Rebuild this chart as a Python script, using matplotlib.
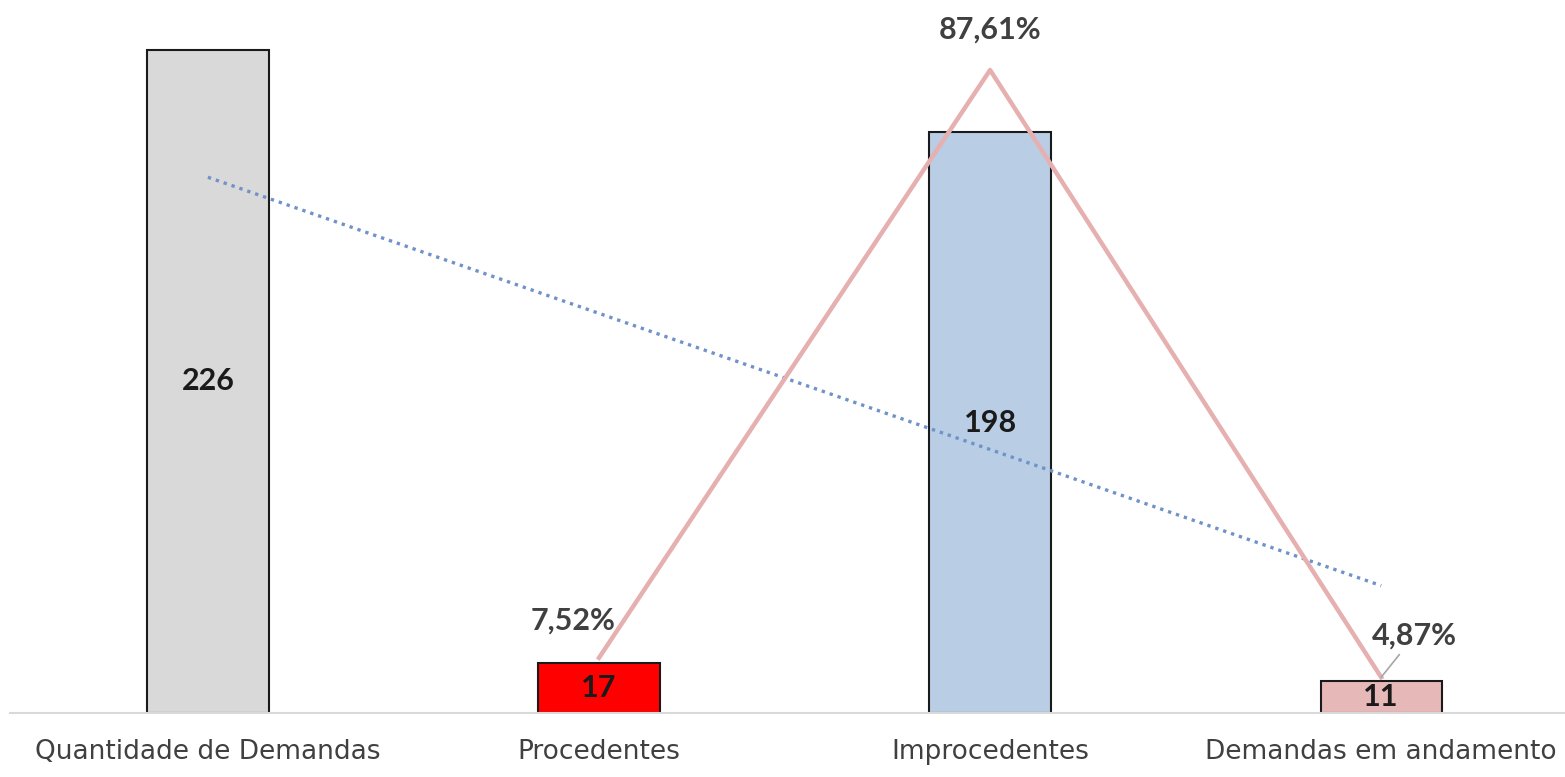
import matplotlib
matplotlib.use("Agg")
import matplotlib.pyplot as plt
import numpy as np

categories = ["Quantidade de Demandas", "Procedentes", "Improcedentes", "Demandas em andamento"]
values = [226, 17, 198, 11]
bar_colors = ["#D9D9D9", "#FF0000", "#B9CDE5", "#E6B9B8"]
pct_values = [7.52, 87.61, 4.87]
pct_labels = ["7,52%", "87,61%", "4,87%"]

plt.rcParams['font.family'] = ['Lato', 'DejaVu Sans']

W, H = 1565, 777
fig = plt.figure(figsize=(W / 100, H / 100), dpi=100)
ax = fig.add_axes([10 / W, (H - 713) / H, (W - 10) / W, 713 / H])

x = np.arange(len(categories))
ax.bar(x, values, width=0.31, color=bar_colors, edgecolor="#1a1a1a", linewidth=1.5, zorder=2)
ax.set_xlim(-0.506, 3.47)
ax.set_ylim(0, 243)

for xi, v in zip(x, values):
    ax.text(xi, v / 2, str(v), ha="center", va="center", fontsize=22,
            fontweight="bold", color="#1a1a1a", zorder=5)

# linear trendline of bar values
coef = np.polyfit(x, values, 1)
ax.plot(x[[0, -1]], np.polyval(coef, x[[0, -1]]), linestyle=(0, (1, 1.5)),
        color="#6F93C8", linewidth=2.4, zorder=4)

for s in ["top", "right", "left"]:
    ax.spines[s].set_visible(False)
ax.spines["bottom"].set_color("#D9D9D9")
ax.spines["bottom"].set_linewidth(1.5)
ax.set_yticks([])
ax.set_xticks(x)
ax.set_xticklabels(categories, fontsize=19, color="#404040", family="DejaVu Sans")
ax.tick_params(axis="x", length=0, pad=19)

ax2 = ax.twinx()
ax2.set_ylim(0, 97.15)
px = x[1:]
ax2.plot(px, pct_values, color="#E6B0B0", linewidth=3.2, zorder=3)
ax2.set_yticks([])
for s in ax2.spines.values():
    s.set_visible(False)

lbl_kw = dict(textcoords="offset points", ha="center", va="center",
              fontsize=22, fontweight="bold", color="#404040")
ax2.annotate(pct_labels[0], xy=(px[0], pct_values[0]), xytext=(-19, 27), **lbl_kw)
ax2.annotate(pct_labels[1], xy=(px[1], pct_values[1]), xytext=(0, 29), **lbl_kw)
ax2.annotate(pct_labels[2], xy=(px[2], pct_values[2]), xytext=(24, 30),
             arrowprops=dict(arrowstyle="-", color="#A6A6A6", lw=1.2,
                             shrinkA=2, shrinkB=0), **lbl_kw)

fig.savefig("out.png", dpi=100)
